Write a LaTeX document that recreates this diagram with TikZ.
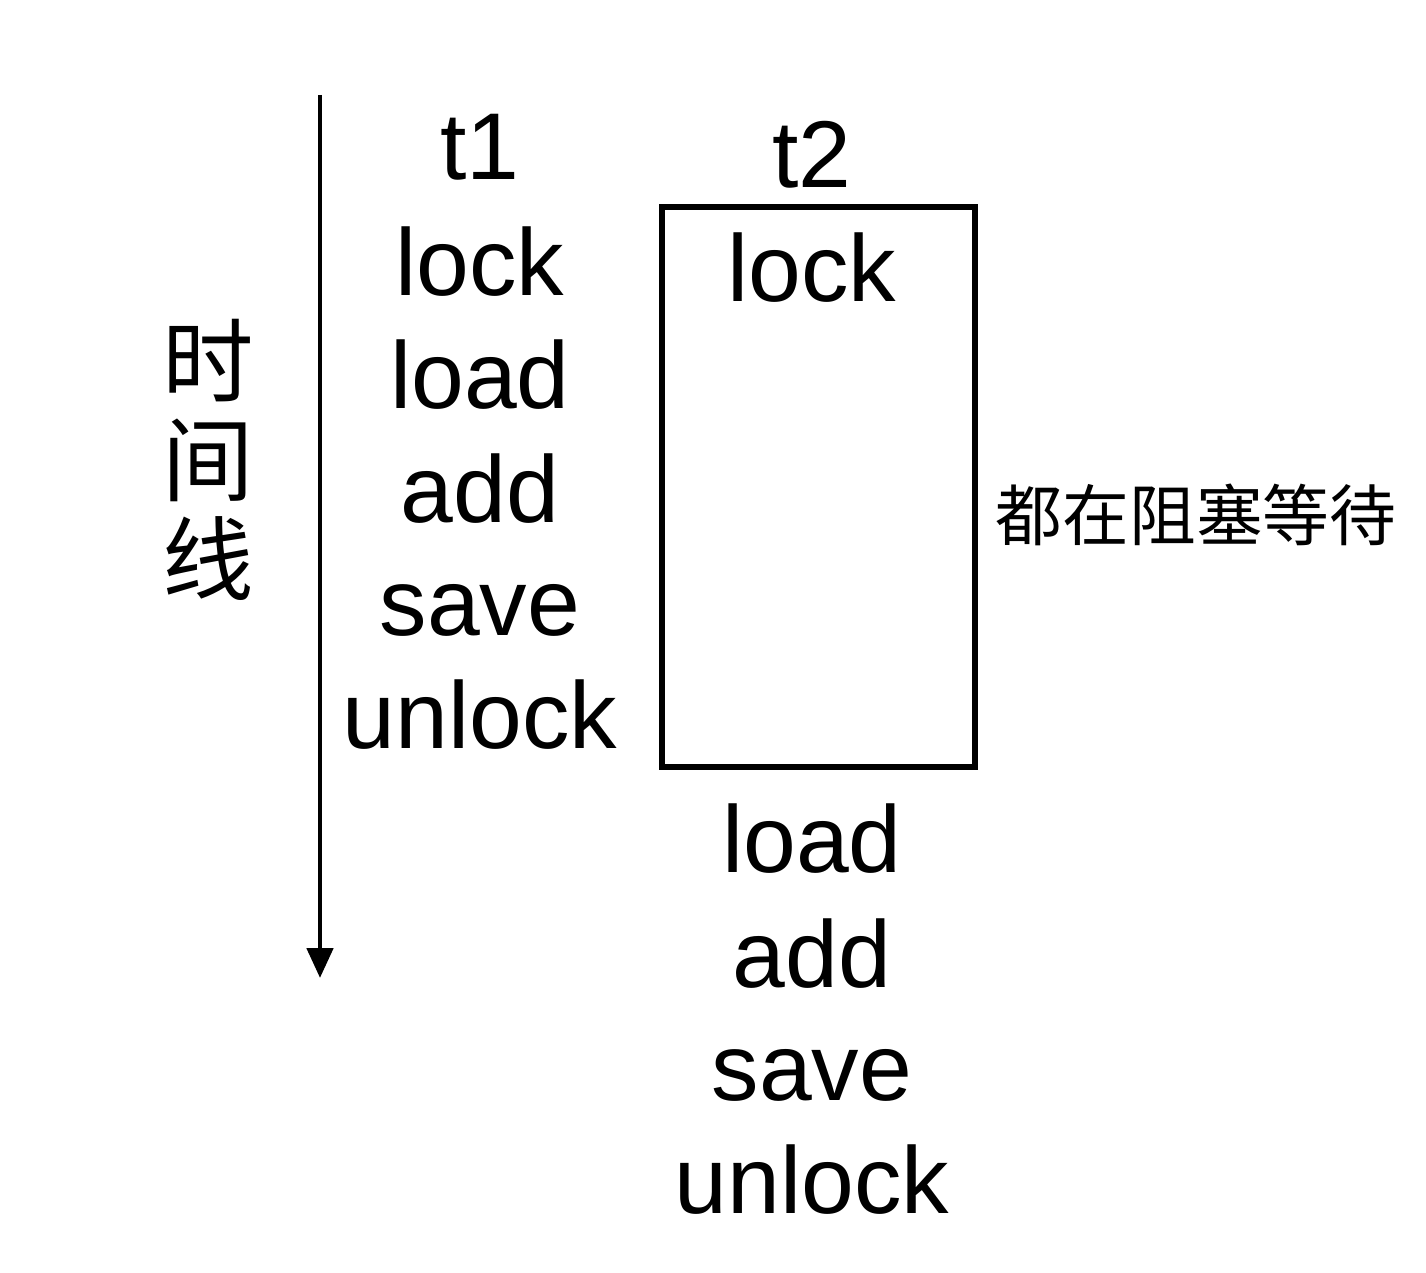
\documentclass[tikz,border=0pt]{standalone}
\usepackage{fontspec}
\setmainfont{Liberation Sans}
\newfontfamily\cjk{Noto Sans CJK SC}
\usepackage{tikz}
\usetikzlibrary{arrows.meta, positioning}

\tikzset{
  word/.style={font=\fontsize{27}{31}\selectfont, anchor=base, inner sep=0pt},
  waitbox/.style={draw, line width=1.5pt, minimum width=3.13cm, minimum height=5.6cm, inner sep=0pt}
}

\begin{document}
\begin{tikzpicture}
        \useasboundingbox (0,0) rectangle (14.26,12.72);

        % Time axis
        \coordinate (axtop) at (3.2,11.77);
        \coordinate (axbot) at (3.2,2.94);
        \draw[line width=1.4pt, -{Triangle[length=3mm,width=2.6mm]}] (axtop) -- (axbot);
        \node[font=\cjk\fontsize{26}{28.2}\selectfont, align=center, inner sep=0pt] (axis) at (2.08,8.12) {时\\间\\线};

        % Thread t1
        \node[word] (t1) at (4.8,10.92) {t1};
        \foreach \y/\op in {9.77/lock, 8.64/load, 7.50/add, 6.37/save, 5.24/unlock}{
          \node[word] (a-\op) at (4.8,\y) {\op};
        }

        % Thread t2
        \node[waitbox] (wait) at (8.185,7.85) {};
        \node[word] (t2) at (8.12,10.84) {t2};
        \node[word] (b-lock) at (8.12,9.70) {lock};
        \foreach \y/\op in {4.00/load, 2.85/add, 1.72/save, 0.59/unlock}{
          \node[word] (b-\op) at (8.12,\y) {\op};
        }

        % Blocked note
        \node[font=\cjk\fontsize{19}{22}\selectfont, anchor=west, inner sep=0pt] (note) at (9.95,7.57) {都在阻塞等待};
\end{tikzpicture}
\end{document}
